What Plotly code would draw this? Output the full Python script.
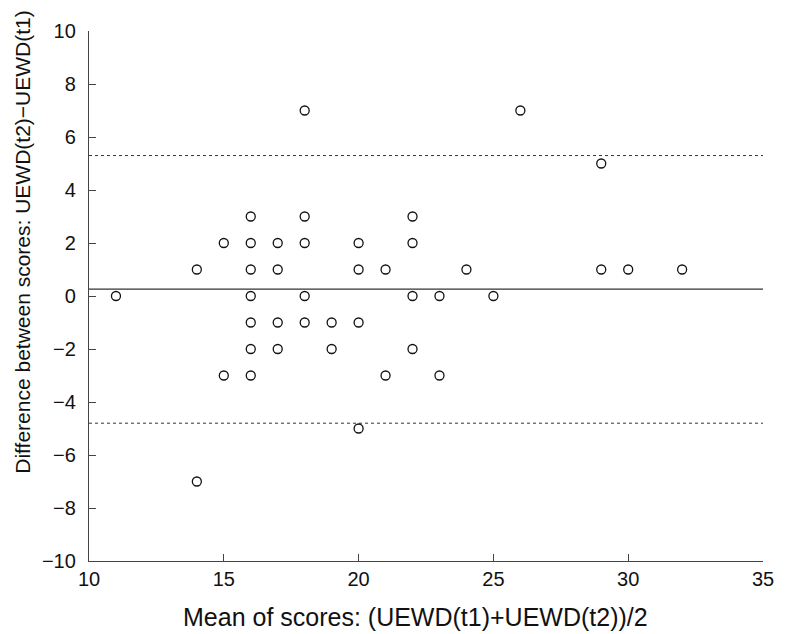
import plotly.graph_objects as go

mean_scores = [11, 14, 14, 15, 15,
               16, 16, 16, 16, 16, 16, 16,
               17, 17, 17, 17,
               18, 18, 18, 18, 18,
               19, 19,
               20, 20, 20, 20,
               21, 21,
               22, 22, 22, 22,
               23, 23, 24, 25, 26, 29, 29, 30, 32]
diff_scores = [0, 1, -7, 2, -3,
               3, 2, 1, 0, -1, -2, -3,
               2, 1, -1, -2,
               7, 3, 2, 0, -1,
               -1, -2,
               2, 1, -1, -5,
               1, -3,
               3, 2, 0, -2,
               0, -3, 1, 0, 7, 5, 1, 1, 1]

mean_diff = 0.26
upper_loa = 5.3
lower_loa = -4.8
x_range = [10, 35]
y_range = [-10, 10]
x_ticks = [10, 15, 20, 25, 30, 35]
y_ticks = [-10, -8, -6, -4, -2, 0, 2, 4, 6, 8, 10]
x_title = "Mean of scores: (UEWD(t1)+UEWD(t2))/2"
y_title = "Difference between scores: UEWD(t2)\u2212UEWD(t1)"

fig = go.Figure()
fig.add_trace(go.Scatter(x=x_range, y=[mean_diff, mean_diff], mode="lines",
                         line=dict(color="#333333", width=1.3), hoverinfo="skip"))
fig.add_trace(go.Scatter(x=x_range, y=[upper_loa, upper_loa], mode="lines",
                         line=dict(color="#333333", width=1, dash="dot"), hoverinfo="skip"))
fig.add_trace(go.Scatter(x=x_range, y=[lower_loa, lower_loa], mode="lines",
                         line=dict(color="#333333", width=1, dash="dot"), hoverinfo="skip"))
fig.add_trace(go.Scatter(x=mean_scores, y=diff_scores, mode="markers",
                         marker=dict(symbol="circle-open", size=9,
                                     color="#111111", line=dict(width=1.3, color="#111111"))))

font_family = "Liberation Sans, Arial, Helvetica, sans-serif"
fig.update_layout(
    width=778, height=626,
    margin=dict(l=81, r=16, t=16, b=73),
    plot_bgcolor="white", paper_bgcolor="white",
    showlegend=False,
    font=dict(family=font_family, size=19, color="#111111"),
    annotations=[
        dict(text=x_title, xref="paper", yref="paper", x=0.484, y=-0.106,
             xanchor="center", yanchor="middle", showarrow=False,
             font=dict(size=25)),
        dict(text=y_title, xref="paper", yref="paper", x=-0.1175, y=0.603,
             xanchor="left", yanchor="middle", showarrow=False, textangle=-90,
             borderpad=0, font=dict(size=21)),
    ],
)
fig.update_xaxes(range=x_range, tickvals=x_ticks, ticks="inside", ticklen=7,
                 tickcolor="#444444", showline=True, linecolor="#444444", linewidth=1.3,
                 showgrid=False, zeroline=False, tickfont=dict(size=20))
fig.update_yaxes(range=y_range, tickvals=y_ticks, ticks="inside", ticklen=7,
                 tickcolor="#444444", showline=True, linecolor="#444444", linewidth=1.3,
                 showgrid=False, zeroline=False, tickfont=dict(size=20),
                 ticklabelstandoff=8)

fig.write_html("out.html")
